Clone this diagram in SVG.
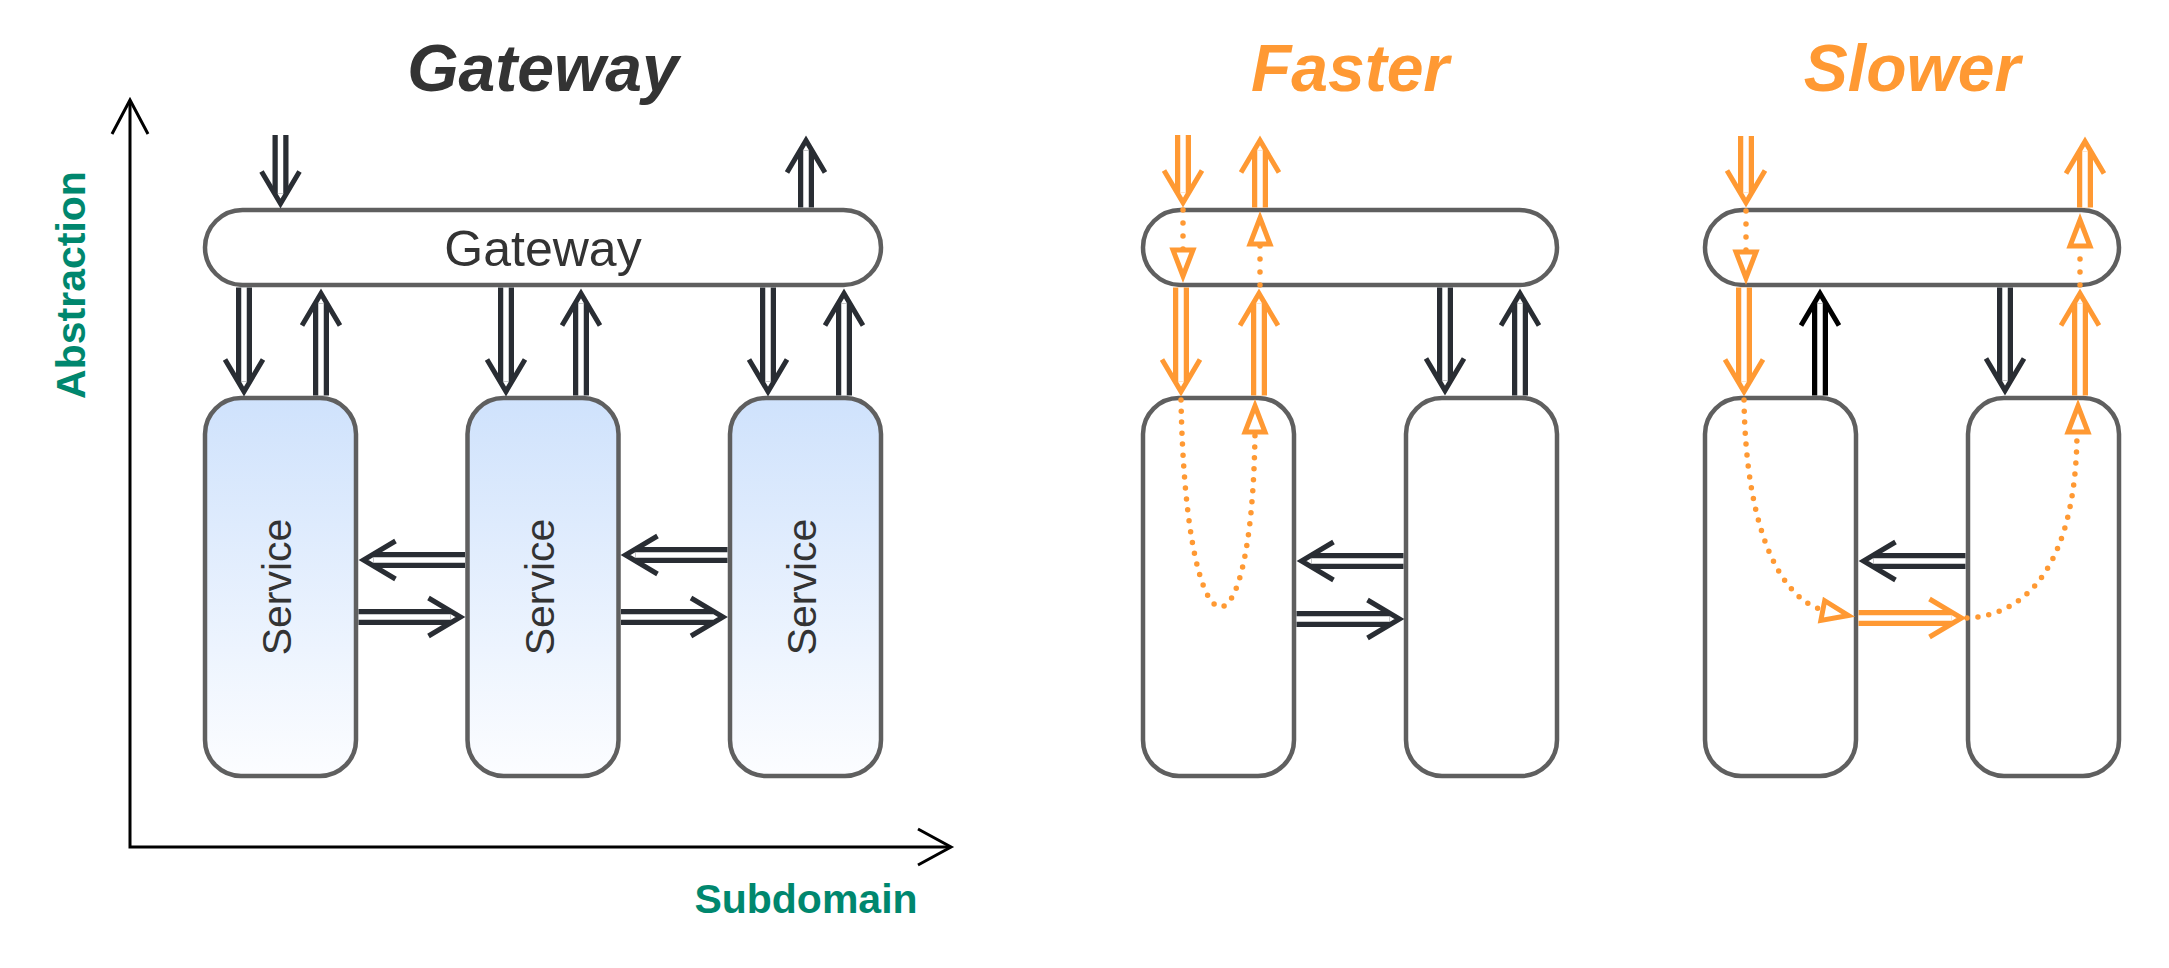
<svg xmlns="http://www.w3.org/2000/svg" width="2169" height="968" viewBox="0 0 2169 968">
<defs>
<linearGradient id="svcGrad" x1="0" y1="0" x2="0" y2="1">
<stop offset="0" stop-color="#cfe2fc"/>
<stop offset="1" stop-color="#fcfdff"/>
</linearGradient>
<path id="chev" d="M-19,-32 L0,0 L19,-32"/>
<path id="tri" d="M0,0 L-10,-26 L10,-26 Z"/>
</defs>
<style>
.box{fill:#fff;stroke:#5f5f5f;stroke-width:4.5}
.svc{fill:url(#svcGrad)}
.lbl{font-family:"Liberation Sans",Arial,sans-serif;fill:#333;text-anchor:middle}
.title{font-family:"Liberation Sans",Arial,sans-serif;font-weight:bold;font-style:italic;font-size:66px;text-anchor:middle}
.axl{font-family:"Liberation Sans",Arial,sans-serif;font-weight:bold;font-size:41px;fill:#00876e;text-anchor:middle}
.ln{fill:none;stroke-width:16}
.gap{fill:none;stroke:#fff;stroke-width:5.5}
.hd{fill:none;stroke-width:5;stroke-linejoin:miter;stroke-miterlimit:10}
.dk{stroke:#292d33}
.or{stroke:#ff9933}
.bk{stroke:#000}
.dot{fill:none;stroke:#ff9933;stroke-width:5.5;stroke-linecap:round;stroke-dasharray:0 11}
.dot2{stroke-dasharray:0 13}
.tri{fill:#fff;stroke:#ff9933;stroke-width:5;stroke-linejoin:miter;stroke-miterlimit:10}
.axis{fill:none;stroke:#000;stroke-width:3;stroke-linejoin:miter}
</style>

<g id="titles">
<text class="title" x="543" y="91" fill="#333">Gateway</text>
<text class="title" x="1350" y="91" fill="#ff9933">Faster</text>
<text class="title" x="1912" y="91" fill="#ff9933">Slower</text>
</g>

<g id="axes">
<path class="axis" d="M130,101 V847 H950"/>
<path class="axis" d="M112,134 L130,100 L148,134"/>
<path class="axis" d="M918,829 L951,847 L918,865"/>
<text class="axl" transform="translate(85,285) rotate(-90)">Abstraction</text>
<text class="axl" x="806" y="913">Subdomain</text>
</g>

<g id="nodes">
<g id="gw-gateway">
<rect class="box" x="205" y="210" width="676" height="75" rx="37.5"/>
<text class="lbl" x="543" y="266" font-size="50">Gateway</text>
</g>
<g id="gw-service1">
<rect class="box svc" x="205" y="398" width="151" height="378" rx="36"/>
<text class="lbl" font-size="41" transform="translate(291,587) rotate(-90)">Service</text>
</g>
<g id="gw-service2">
<rect class="box svc" x="467.5" y="398" width="151" height="378" rx="36"/>
<text class="lbl" font-size="41" transform="translate(553.5,587) rotate(-90)">Service</text>
</g>
<g id="gw-service3">
<rect class="box svc" x="730" y="398" width="151" height="378" rx="36"/>
<text class="lbl" font-size="41" transform="translate(816,587) rotate(-90)">Service</text>
</g>
<g id="fa-gateway"><rect class="box" x="1143" y="210" width="414" height="75" rx="37.5"/></g>
<g id="fa-service1"><rect class="box" x="1143" y="398" width="151" height="378" rx="36"/></g>
<g id="fa-service2"><rect class="box" x="1406" y="398" width="151" height="378" rx="36"/></g>
<g id="sl-gateway"><rect class="box" x="1705" y="210" width="414" height="75" rx="37.5"/></g>
<g id="sl-service1"><rect class="box" x="1705" y="398" width="151" height="378" rx="36"/></g>
<g id="sl-service2"><rect class="box" x="1968" y="398" width="151" height="378" rx="36"/></g>
</g>

<g id="connectors">
<!-- Gateway diagram -->
<g id="a1"><path class="ln dk" d="M280.5,135V193.5"/><path class="gap" d="M280.5,135V193.5"/><use href="#chev" class="hd dk" transform="translate(280.5,203.5)"/></g>
<g id="a2"><path class="ln dk" d="M806,207.5V150.5"/><path class="gap" d="M806,207.5V150.5"/><use href="#chev" class="hd dk" transform="translate(806,140.5) rotate(180)"/></g>
<g id="a3"><path class="ln dk" d="M244,287.5V381.5"/><path class="gap" d="M244,287.5V381.5"/><use href="#chev" class="hd dk" transform="translate(244,391.5)"/></g>
<g id="a4"><path class="ln dk" d="M321,395.5V303.5"/><path class="gap" d="M321,395.5V303.5"/><use href="#chev" class="hd dk" transform="translate(321,293.5) rotate(180)"/></g>
<g id="a5"><path class="ln dk" d="M506,287.5V381.5"/><path class="gap" d="M506,287.5V381.5"/><use href="#chev" class="hd dk" transform="translate(506,391.5)"/></g>
<g id="a6"><path class="ln dk" d="M581,395.5V303.5"/><path class="gap" d="M581,395.5V303.5"/><use href="#chev" class="hd dk" transform="translate(581,293.5) rotate(180)"/></g>
<g id="a7"><path class="ln dk" d="M768,287.5V381.5"/><path class="gap" d="M768,287.5V381.5"/><use href="#chev" class="hd dk" transform="translate(768,391.5)"/></g>
<g id="a8"><path class="ln dk" d="M844,395.5V303.5"/><path class="gap" d="M844,395.5V303.5"/><use href="#chev" class="hd dk" transform="translate(844,293.5) rotate(180)"/></g>
<g id="h1"><path class="ln dk" d="M465,560H373.5"/><path class="gap" d="M465,560H373.5"/><use href="#chev" class="hd dk" transform="translate(363.5,560) rotate(90)"/></g>
<g id="h2"><path class="ln dk" d="M358.5,617H450.5"/><path class="gap" d="M358.5,617H450.5"/><use href="#chev" class="hd dk" transform="translate(460.5,617) rotate(-90)"/></g>
<g id="h3"><path class="ln dk" d="M727.5,555H635.5"/><path class="gap" d="M727.5,555H635.5"/><use href="#chev" class="hd dk" transform="translate(625.5,555) rotate(90)"/></g>
<g id="h4"><path class="ln dk" d="M621,617H713"/><path class="gap" d="M621,617H713"/><use href="#chev" class="hd dk" transform="translate(723,617) rotate(-90)"/></g>

<!-- Faster -->
<g id="f1"><path class="ln or" d="M1183,135V192.5"/><path class="gap" d="M1183,135V192.5"/><use href="#chev" class="hd or" transform="translate(1183,202.5)"/></g>
<g id="f2"><path class="ln or" d="M1260,207.5V150.5"/><path class="gap" d="M1260,207.5V150.5"/><use href="#chev" class="hd or" transform="translate(1260,140.5) rotate(180)"/></g>
<g id="f3"><path class="dot dot2" d="M1183,210V250"/><use href="#tri" class="tri" transform="translate(1183,276)"/></g>
<g id="f4"><path class="dot dot2" d="M1260,285V245"/><use href="#tri" class="tri" transform="translate(1260,218) rotate(180)"/></g>
<g id="f5"><path class="ln or" d="M1181,287.5V381.5"/><path class="gap" d="M1181,287.5V381.5"/><use href="#chev" class="hd or" transform="translate(1181,391.5)"/></g>
<g id="f6"><path class="ln or" d="M1259,395.5V303.5"/><path class="gap" d="M1259,395.5V303.5"/><use href="#chev" class="hd or" transform="translate(1259,293.5) rotate(180)"/></g>
<g id="f7"><path class="ln dk" d="M1445,287.5V380.5"/><path class="gap" d="M1445,287.5V380.5"/><use href="#chev" class="hd dk" transform="translate(1445,390.5)"/></g>
<g id="f8"><path class="ln dk" d="M1520,395.5V303.5"/><path class="gap" d="M1520,395.5V303.5"/><use href="#chev" class="hd dk" transform="translate(1520,293.5) rotate(180)"/></g>
<g id="f9"><path class="dot" d="M1181,400 C1186,670 1252,670 1255,433"/><use href="#tri" class="tri" transform="translate(1255,406) rotate(180)"/></g>
<g id="f10"><path class="ln dk" d="M1403.5,561H1311.5"/><path class="gap" d="M1403.5,561H1311.5"/><use href="#chev" class="hd dk" transform="translate(1301.5,561) rotate(90)"/></g>
<g id="f11"><path class="ln dk" d="M1296.5,619H1389.5"/><path class="gap" d="M1296.5,619H1389.5"/><use href="#chev" class="hd dk" transform="translate(1399.5,619) rotate(-90)"/></g>

<!-- Slower -->
<g id="s1"><path class="ln or" d="M1746,136V192.5"/><path class="gap" d="M1746,136V192.5"/><use href="#chev" class="hd or" transform="translate(1746,202.5)"/></g>
<g id="s2"><path class="ln or" d="M2085,207.5V151.5"/><path class="gap" d="M2085,207.5V151.5"/><use href="#chev" class="hd or" transform="translate(2085,141.5) rotate(180)"/></g>
<g id="s3"><path class="dot dot2" d="M1746,211V252"/><use href="#tri" class="tri" transform="translate(1746,278)"/></g>
<g id="s4"><path class="dot dot2" d="M2080,285V246"/><use href="#tri" class="tri" transform="translate(2080,220) rotate(180)"/></g>
<g id="s5"><path class="ln or" d="M1744,287.5V381.5"/><path class="gap" d="M1744,287.5V381.5"/><use href="#chev" class="hd or" transform="translate(1744,391.5)"/></g>
<g id="s6"><path class="ln bk" d="M1820,395.5V303.5"/><path class="gap" d="M1820,395.5V303.5"/><use href="#chev" class="hd bk" transform="translate(1820,293.5) rotate(180)"/></g>
<g id="s7"><path class="ln dk" d="M2005,287.5V380.5"/><path class="gap" d="M2005,287.5V380.5"/><use href="#chev" class="hd dk" transform="translate(2005,390.5)"/></g>
<g id="s8"><path class="ln or" d="M2080,395.5V303.5"/><path class="gap" d="M2080,395.5V303.5"/><use href="#chev" class="hd or" transform="translate(2080,293.5) rotate(180)"/></g>
<g id="s9"><path class="dot" d="M1744,400 C1746,540 1785,600 1823,610"/><use href="#tri" class="tri" transform="translate(1848.3,615.5) rotate(-79)"/></g>
<g id="s10"><path class="ln or" d="M1858.5,618H1951.5"/><path class="gap" d="M1858.5,618H1951.5"/><use href="#chev" class="hd or" transform="translate(1961.5,618) rotate(-90)"/></g>
<g id="s11"><path class="ln dk" d="M1965.5,561H1873.5"/><path class="gap" d="M1965.5,561H1873.5"/><use href="#chev" class="hd dk" transform="translate(1863.5,561) rotate(90)"/></g>
<g id="s12"><path class="dot" d="M1967,618 C2030,615 2076,560 2077,433"/><use href="#tri" class="tri" transform="translate(2078,406) rotate(180)"/></g>
</g>
</svg>
